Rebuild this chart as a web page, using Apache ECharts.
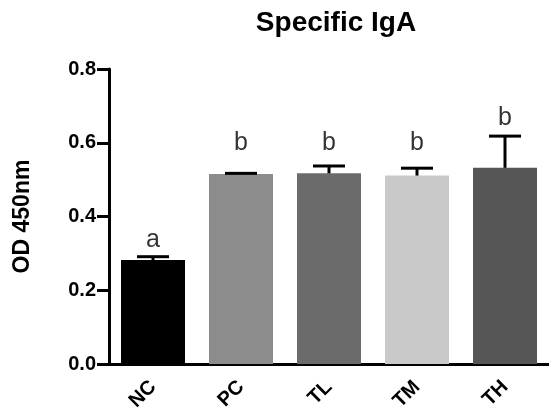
<!DOCTYPE html>
<html>
<head>
<meta charset="utf-8">
<script src="https://cdn.jsdelivr.net/npm/echarts@6/dist/echarts.min.js"></script>
<style>
html,body{margin:0;padding:0;background:#fff;}
#chart{width:549px;height:415px;}
</style>
</head>
<body>
<div id="chart"></div>
<script>
const categories = ['NC', 'PC', 'TL', 'TM', 'TH'];
const means = [0.282, 0.515, 0.517, 0.511, 0.532];
const errors = [0.009, 0.002, 0.020, 0.020, 0.086];
const letters = ['a', 'b', 'b', 'b', 'b'];
const letterY = [0.336, 0.599, 0.599, 0.599, 0.667];
const barColors = ['#000000', '#8c8c8c', '#6b6b6b', '#c9c9c9', '#555555'];
const yTicks = ['0.0', '0.2', '0.4', '0.6', '0.8'];

const FONT = '"Liberation Sans", Arial, Helvetica, sans-serif';
const chart = echarts.init(document.getElementById('chart'));

chart.setOption({
  backgroundColor: '#ffffff',
  animation: false,
  title: {
    text: 'Specific IgA',
    left: 331,
    textAlign: 'center',
    top: 4,
    textStyle: {fontFamily: FONT, fontWeight: 'bold', fontSize: 28, color: '#000'}
  },
  grid: {left: 109, right: -5, top: 69, bottom: 51},
  xAxis: {
    type: 'category',
    data: categories,
    boundaryGap: true,
    axisLine: {lineStyle: {color: '#000', width: 3}},
    axisTick: {alignWithLabel: true, length: 13, lineStyle: {color: '#000', width: 3}},
    axisLabel: {rotate: 45, margin: 20, fontFamily: FONT, fontWeight: 'bold', fontSize: 20, color: '#000'}
  },
  yAxis: {
    type: 'value',
    min: 0, max: 0.8, interval: 0.2,
    name: 'OD 450nm',
    nameLocation: 'middle',
    nameGap: 75,
    nameTextStyle: {fontFamily: FONT, fontWeight: 'bold', fontSize: 23, color: '#000'},
    splitLine: {show: false},
    axisLine: {show: true, lineStyle: {color: '#000', width: 3}},
    axisTick: {show: true, length: 12, lineStyle: {color: '#000', width: 3}},
    axisLabel: {
      margin: 13, fontFamily: FONT, fontWeight: 'bold', fontSize: 20, color: '#000',
      formatter: function (v) { return yTicks[Math.round(v / 0.2)]; }
    }
  },
  series: [
    {
      type: 'bar',
      barWidth: 64,
      data: means.map((v, i) => ({value: v, itemStyle: {color: barColors[i]}})),
      z: 1
    },
    {
      type: 'custom',
      z: 3,
      data: means.map((v, i) => [i, v, v + errors[i]]),
      renderItem: function (params, api) {
        const i = api.value(0);
        const p0 = api.coord([i, api.value(1)]);
        const p1 = api.coord([i, api.value(2)]);
        const hw = 16;
        const style = {stroke: '#000', lineWidth: 3};
        return {
          type: 'group',
          children: [
            {type: 'line', shape: {x1: p0[0], y1: p0[1], x2: p1[0], y2: p1[1]}, style: style},
            {type: 'line', shape: {x1: p1[0] - hw, y1: p1[1], x2: p1[0] + hw, y2: p1[1]}, style: style}
          ]
        };
      }
    },
    {
      type: 'scatter',
      symbolSize: 0,
      z: 4,
      data: letterY.map((v, i) => [i, v]),
      label: {
        show: true,
        position: 'inside',
        formatter: function (p) { return letters[p.dataIndex]; },
        fontFamily: FONT, fontSize: 25, color: '#000'
      }
    }
  ]
});
</script>
</body>
</html>
